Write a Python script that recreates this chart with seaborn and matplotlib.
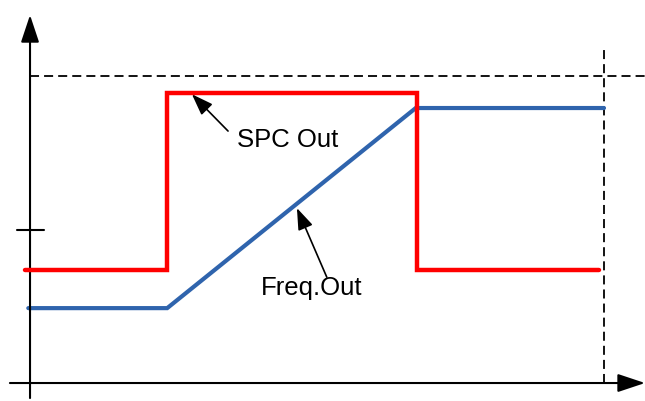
import numpy as np
import pandas as pd
import matplotlib
matplotlib.use('Agg')
import matplotlib.pyplot as plt
import seaborn as sns

# Tidsakse (vertikal stiplet linje ved t=10) og nivå i % (stiplet linje = 100 %)
spc_t = [-0.09, 2.39, 2.39, 6.74, 6.74, 9.91]
spc_v = [36.8, 36.8, 94.5, 94.5, 36.8, 36.8]
freq_t = [-0.03, 2.39, 6.72, 10.0]
freq_v = [24.4, 24.4, 89.6, 89.6]
max_level = 100
end_time = 10
tick_level = 50
labels = ['SPC Out', 'Freq.Out']

sns.set_style('white')
plt.rcParams['font.family'] = ['Liberation Sans', 'DejaVu Sans']

fig = plt.figure(figsize=(6.45, 4.01), dpi=100)
ax = fig.add_axes([0, 0, 1, 1])
ax.set_xlim(-0.523, 10.714)
ax.set_ylim(-5.86, 124.8)
ax.axis('off')

spc = pd.DataFrame({'t': spc_t, 'v': spc_v})
freq = pd.DataFrame({'t': freq_t, 'v': freq_v})

sns.lineplot(data=freq, x='t', y='v', ax=ax, color='#2F64AD', lw=3.0,
             estimator=None, sort=False, zorder=3)
sns.lineplot(data=spc, x='t', y='v', ax=ax, color='#FF0000', lw=3.2,
             estimator=None, sort=False, zorder=4)
for ln in ax.lines:
    ln.set_solid_joinstyle('miter')
    ln.set_solid_capstyle('round')

# stiplede hjelpelinjer
ax.plot([0, 10.714], [max_level, max_level], color='black', lw=1.3,
        dashes=(5, 2.8), zorder=2)
ax.plot([end_time, end_time], [0, 108.5], color='black', lw=1.3,
        dashes=(5, 2.8), zorder=2)

# akser med piler
axis_arrow = dict(arrowstyle='-|>,head_length=1.2,head_width=0.4',
                  mutation_scale=14, color='black', lw=1.5,
                  shrinkA=0, shrinkB=0)
ax.annotate('', xy=(0, 119.9), xytext=(0, -4.9), arrowprops=axis_arrow)
ax.annotate('', xy=(10.714, 0), xytext=(-0.35, 0), arrowprops=axis_arrow)
ax.plot([-0.23, 0.24], [tick_level, tick_level], color='black', lw=1.5)

# etiketter
lab_arrow = dict(arrowstyle='-|>,head_length=1.2,head_width=0.43',
                 mutation_scale=11, color='black', lw=1.2,
                 shrinkA=0, shrinkB=0)
ax.annotate('', xy=(2.82, 94.1), xytext=(3.45, 82.1), arrowprops=lab_arrow)
ax.text(4.48, 79.2, labels[0], fontsize=18.5, ha='center', va='center',
        color='black')
ax.annotate('', xy=(4.65, 57.0), xytext=(5.17, 34.5), arrowprops=lab_arrow)
ax.text(4.90, 31.0, labels[1], fontsize=18.5, ha='center', va='center',
        color='black')

plt.savefig('out.png', dpi=100)
